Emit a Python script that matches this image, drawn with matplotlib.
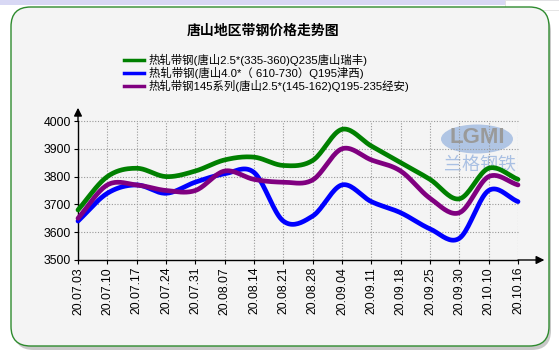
import numpy as np
import matplotlib
matplotlib.use("Agg")
import matplotlib.pyplot as plt
from matplotlib.patches import FancyBboxPatch, Rectangle, Ellipse

plt.rcParams['font.family'] = ['Liberation Sans', 'Noto Sans CJK SC', 'DejaVu Sans']

dates = ["20.07.03", "20.07.10", "20.07.17", "20.07.24", "20.07.31", "20.08.07",
         "20.08.14", "20.08.21", "20.08.28", "20.09.04", "20.09.11", "20.09.18",
         "20.09.25", "20.09.30", "20.10.10", "20.10.16"]
green_vals = [3680, 3800, 3830, 3800, 3820, 3860, 3870, 3840, 3858, 3970, 3910, 3850,
              3790, 3720, 3830, 3790]
blue_vals = [3640, 3740, 3770, 3740, 3780, 3810, 3815, 3640, 3658, 3770, 3710, 3670,
             3612, 3578, 3750, 3710]
purple_vals = [3650, 3770, 3770, 3750, 3750, 3820, 3790, 3780, 3788, 3900, 3860, 3820,
               3722, 3670, 3800, 3770]
series_names = ["热轧带钢(唐山2.5*(335-360)Q235唐山瑞丰)",
                "热轧带钢(唐山4.0*（ 610-730）Q195津西)",
                "热轧带钢145系列(唐山2.5*(145-162)Q195-235经安)"]
series_colors = ["#008000", "#0000ff", "#800080"]
title = "唐山地区带钢价格走势图"
yticks = [3500, 3600, 3700, 3800, 3900, 4000]


def smooth(y, n=20):
    y = np.asarray(y, float)
    x = np.arange(len(y), dtype=float)
    m = np.zeros_like(y)
    m[1:-1] = (y[2:] - y[:-2]) / 2.0
    m[0] = y[1] - y[0]
    m[-1] = y[-1] - y[-2]
    xs, ys = [], []
    for i in range(len(y) - 1):
        t = np.linspace(0, 1, n, endpoint=False)
        h00 = 2 * t**3 - 3 * t**2 + 1
        h10 = t**3 - 2 * t**2 + t
        h01 = -2 * t**3 + 3 * t**2
        h11 = t**3 - t**2
        xs.append(x[i] + t)
        ys.append(h00 * y[i] + h10 * m[i] + h01 * y[i + 1] + h11 * m[i + 1])
    xs.append([x[-1]])
    ys.append([y[-1]])
    return np.concatenate(xs), np.concatenate(ys)


W, H = 559, 355
fig = plt.figure(figsize=(W / 100, H / 100), dpi=100)
fig.patch.set_facecolor("white")

# top strip
fig.add_artist(Rectangle((0, 1 - 5 / H), 1, 5 / H, transform=fig.transFigure,
                         facecolor="#d8d8f4", edgecolor="none", zorder=-20))
fig.add_artist(Rectangle((505 / W, 1 - 10 / H), 54 / W, 10 / H, transform=fig.transFigure,
                         facecolor="white", edgecolor="#e0e0e0", lw=0.6, zorder=-19))
# shadow
fig.add_artist(FancyBboxPatch((14 / W, 1 - 350 / H), 537 / W, 338 / H,
                              boxstyle="round,pad=0,rounding_size=0.035",
                              transform=fig.transFigure, facecolor="#c8c8c8",
                              edgecolor="none", mutation_aspect=W / H, zorder=-18))
# panel
fig.add_artist(FancyBboxPatch((11 / W, 1 - 346 / H), 538 / W, 339 / H,
                              boxstyle="round,pad=0,rounding_size=0.035",
                              transform=fig.transFigure, facecolor="#f4f4f4",
                              edgecolor="#2e8b2e", lw=1.0, mutation_aspect=W / H,
                              zorder=-17))

# watermark
fig.add_artist(Ellipse((477 / W, 1 - 139 / H), 72 / W, 29 / H, transform=fig.transFigure,
                       facecolor="#a9c0e3", edgecolor="none", alpha=0.9, zorder=-10))
fig.text(477 / W, 1 - 138 / H, "LGMI", ha="center", va="center", fontsize=16,
         fontweight="bold", color="#9a9a9a", zorder=-9)
fig.text(480 / W, 1 - 166 / H, "兰格钢铁", ha="center", va="center", fontsize=13,
         color="#a9c0e3", style="italic", zorder=-9)

ax = fig.add_axes([78 / W, 1 - 260 / H, 440 / W, 139 / H])
ax.set_facecolor("none")
ax.set_xlim(0, len(dates) - 1)
ax.set_ylim(3500, 4000)

# grid
for v in yticks[1:]:
    ax.plot([0, len(dates) - 1], [v, v], color="#999999", lw=0.8, ls=(0, (1, 1.5)),
            zorder=1, clip_on=False)
for i in range(1, len(dates)):
    ax.plot([i, i], [3500, 4000], color="#999999", lw=0.8, ls=(0, (1, 1.5)), zorder=1)

for vals, c in zip([green_vals, blue_vals, purple_vals], series_colors):
    xs, ys = smooth(vals)
    ax.plot(xs, ys, color=c, lw=3.4, solid_capstyle="round", zorder=3, clip_on=False)

for s in ["top", "right"]:
    ax.spines[s].set_visible(False)
ax.spines["left"].set_linewidth(1.0)
ax.spines["bottom"].set_linewidth(1.0)

ax.set_yticks(yticks)
ax.set_yticklabels([str(v) for v in yticks], fontsize=8.8)
ax.set_xticks(range(len(dates)))
ax.set_xticklabels(dates, rotation=90, fontsize=8.8)
ax.tick_params(axis="both", length=3, width=0.8, pad=2, colors="black")

# axis arrows
ax.annotate("", xy=(1.06, 0), xycoords="axes fraction", xytext=(1.0, 0),
            arrowprops=dict(arrowstyle="-|>", color="black", lw=1.0,
                            mutation_scale=12, shrinkA=0, shrinkB=0))
ax.annotate("", xy=(0, 1.095), xycoords="axes fraction", xytext=(0, 1.0),
            arrowprops=dict(arrowstyle="-|>", color="black", lw=1.0,
                            mutation_scale=12, shrinkA=0, shrinkB=0))

# title
fig.text(263 / W, 1 - 31 / H, title, ha="center", va="center", fontsize=10,
         fontweight="bold")

# legend
leg_y = [60, 73, 86]
for yy, name, c in zip(leg_y, series_names, series_colors):
    fig.add_artist(plt.Line2D([124 / W, 144 / W], [1 - yy / H, 1 - yy / H],
                              color=c, lw=2.5, transform=fig.transFigure))
    fig.text(149 / W, 1 - yy / H, name, ha="left", va="center", fontsize=8.2)

fig.savefig("out.png", dpi=100, facecolor=fig.get_facecolor())
